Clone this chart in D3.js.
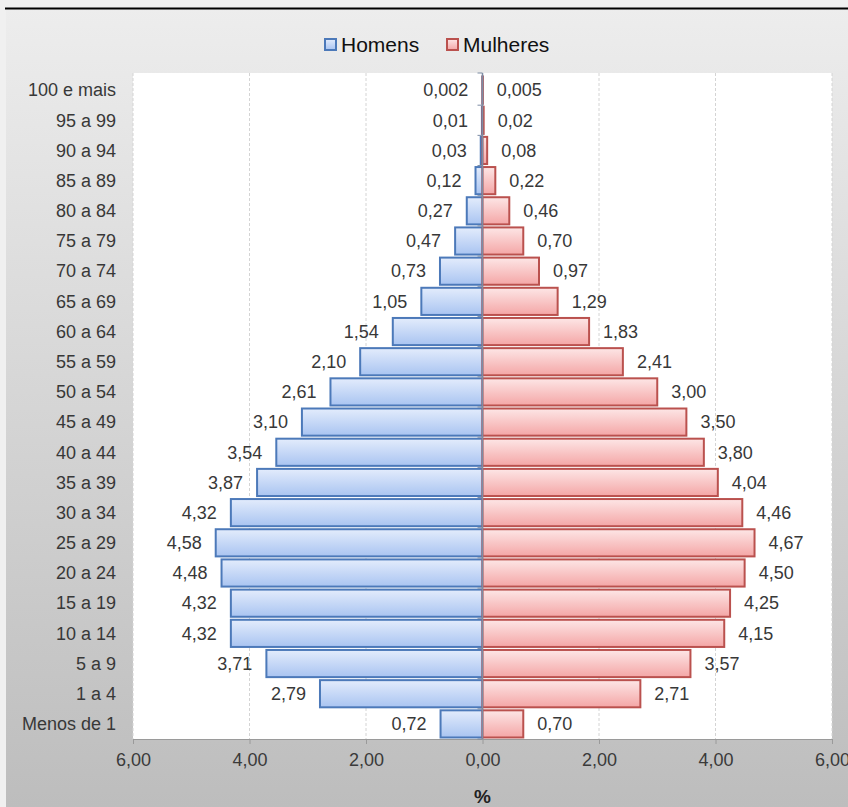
<!DOCTYPE html>
<html><head><meta charset="utf-8">
<script src="https://cdn.jsdelivr.net/npm/d3@7"></script>
<style>
html,body{margin:0;padding:0;background:#f0f0f0;}
svg{display:block;font-family:"Liberation Sans",Arial,sans-serif;}
</style></head>
<body>
<svg id="c" width="848" height="807"></svg>
<script>
const categories = ["100 e mais","95 a 99","90 a 94","85 a 89","80 a 84","75 a 79","70 a 74","65 a 69","60 a 64","55 a 59","50 a 54","45 a 49","40 a 44","35 a 39","30 a 34","25 a 29","20 a 24","15 a 19","10 a 14","5 a 9","1 a 4","Menos de 1"];
const homens = [0.002,0.01,0.03,0.12,0.27,0.47,0.73,1.05,1.54,2.10,2.61,3.10,3.54,3.87,4.32,4.58,4.48,4.32,4.32,3.71,2.79,0.72];
const mulheres = [0.005,0.02,0.08,0.22,0.46,0.70,0.97,1.29,1.83,2.41,3.00,3.50,3.80,4.04,4.46,4.67,4.50,4.25,4.15,3.57,2.71,0.70];
const homensLabels = ["0,002","0,01","0,03","0,12","0,27","0,47","0,73","1,05","1,54","2,10","2,61","3,10","3,54","3,87","4,32","4,58","4,48","4,32","4,32","3,71","2,79","0,72"];
const mulheresLabels = ["0,005","0,02","0,08","0,22","0,46","0,70","0,97","1,29","1,83","2,41","3,00","3,50","3,80","4,04","4,46","4,67","4,50","4,25","4,15","3,57","2,71","0,70"];
const xTicks = [-6,-4,-2,0,2,4,6];
const seriesNames = ["Homens","Mulheres"];

const svg = d3.select("#c");
const defs = svg.append("defs");
const bg = defs.append("linearGradient").attr("id","bg").attr("x1",0).attr("y1",0).attr("x2",0).attr("y2",1);
bg.append("stop").attr("offset","0%").attr("stop-color","#ededed");
bg.append("stop").attr("offset","100%").attr("stop-color","#bdbdbd");
const gb = defs.append("linearGradient").attr("id","gb").attr("x1",0).attr("y1",0).attr("x2",0).attr("y2",1);
gb.append("stop").attr("offset","0%").attr("stop-color","#e3ecfc");
gb.append("stop").attr("offset","100%").attr("stop-color","#a9c4f1");
const gp = defs.append("linearGradient").attr("id","gp").attr("x1",0).attr("y1",0).attr("x2",0).attr("y2",1);
gp.append("stop").attr("offset","0%").attr("stop-color","#fde6e6");
gp.append("stop").attr("offset","100%").attr("stop-color","#f4a6a6");

svg.append("rect").attr("x",6).attr("y",8).attr("width",842).attr("height",799).attr("fill","url(#bg)");

const L = 133, R = 832, T = 73, B = 739;
const x = d3.scaleLinear().domain([-6,6]).range([L,R]);
const y = d3.scaleBand().domain(categories).range([T+2,B]).paddingInner(0.1).paddingOuter(0.05);

svg.append("rect").attr("x",L).attr("y",T).attr("width",R-L).attr("height",B-T).attr("fill","#fff");

// gridlines
svg.append("g").selectAll("line").data(xTicks.filter(d=>d!==0)).join("line")
  .attr("x1",d=>x(d)).attr("x2",d=>x(d)).attr("y1",T).attr("y2",B)
  .attr("stroke","#d4d4d4").attr("stroke-width",1).attr("stroke-dasharray","3,2");

// x axis
const fmt = d => d3.format(".2f")(Math.abs(d)).replace(".",",");
const xa = svg.append("g").attr("transform",`translate(0,${B})`)
  .call(d3.axisBottom(x).tickValues(xTicks).tickFormat(fmt).tickSize(5).tickSizeOuter(0));
xa.select(".domain").attr("stroke","#9a9a9a");
xa.selectAll(".tick line").attr("stroke","#9a9a9a");
xa.selectAll(".tick text").attr("font-size",18).attr("fill","#3a3a3a").attr("dy","1.05em")
  .attr("font-family","Liberation Sans, Arial, sans-serif");

// bars
const rows = categories.map((c,i)=>({c,h:homens[i],m:mulheres[i],hl:homensLabels[i],ml:mulheresLabels[i]}));
svg.append("g").selectAll("rect").data(rows).join("rect")
  .attr("x",d=>x(-d.h)).attr("y",d=>y(d.c)).attr("width",d=>x(0)-x(-d.h)).attr("height",y.bandwidth())
  .attr("fill","url(#gb)").attr("stroke","#4c79b9").attr("stroke-width",2);
svg.append("g").selectAll("rect").data(rows).join("rect")
  .attr("x",x(0)).attr("y",d=>y(d.c)).attr("width",d=>x(d.m)-x(0)).attr("height",y.bandwidth())
  .attr("fill","url(#gp)").attr("stroke","#ba514e").attr("stroke-width",2);

// y axis (center)
const ya = svg.append("g").attr("transform",`translate(${x(0)},0)`);
ya.append("line").attr("x1",0).attr("x2",0).attr("y1",T).attr("y2",B).attr("stroke","#7d8ca3").attr("stroke-width",1.5);
const bounds = d3.range(categories.length+1).map(i=> i===0?T: (i===categories.length?B:(y(categories[i]) - y.step()*y.paddingInner()/2)));
ya.selectAll("line.t").data(bounds).join("line").attr("class","t")
  .attr("x1",-5).attr("x2",0).attr("y1",d=>d).attr("y2",d=>d).attr("stroke","#7d8ca3");

// category labels
svg.append("g").selectAll("text").data(categories).join("text")
  .attr("x",116).attr("y",d=>y(d)+y.bandwidth()/2).attr("dy","0.35em").attr("text-anchor","end")
  .attr("font-size",18).attr("fill","#383838").text(d=>d);

// value labels
svg.append("g").selectAll("text").data(rows).join("text")
  .attr("x",d=>x(-d.h)-14).attr("y",d=>y(d.c)+y.bandwidth()/2).attr("dy","0.35em").attr("text-anchor","end")
  .attr("font-size",18).attr("fill","#383838").text(d=>d.hl);
svg.append("g").selectAll("text").data(rows).join("text")
  .attr("x",d=>x(d.m)+14).attr("y",d=>y(d.c)+y.bandwidth()/2).attr("dy","0.35em").attr("text-anchor","start")
  .attr("font-size",18).attr("fill","#383838").text(d=>d.ml);

// legend
const leg = svg.append("g");
const legX = [324, 446];
seriesNames.forEach((n,i)=>{
  leg.append("rect").attr("x",legX[i]+1).attr("y",39).attr("width",11).attr("height",11)
    .attr("fill",i===0?"url(#gb)":"url(#gp)").attr("stroke",i===0?"#4c79b9":"#ba514e").attr("stroke-width",2);
  leg.append("text").attr("x",legX[i]+17).attr("y",52).attr("font-size",21).attr("fill","#111").text(n);
});

// axis title
svg.append("text").attr("x",x(0)).attr("y",803).attr("text-anchor","middle")
  .attr("font-size",19).attr("font-weight","bold").attr("fill","#222").text("%");

// top frame line
svg.append("line").attr("x1",5).attr("x2",848).attr("y1",8.5).attr("y2",8.5).attr("stroke","#000").attr("stroke-width",2);
</script>
</body></html>
